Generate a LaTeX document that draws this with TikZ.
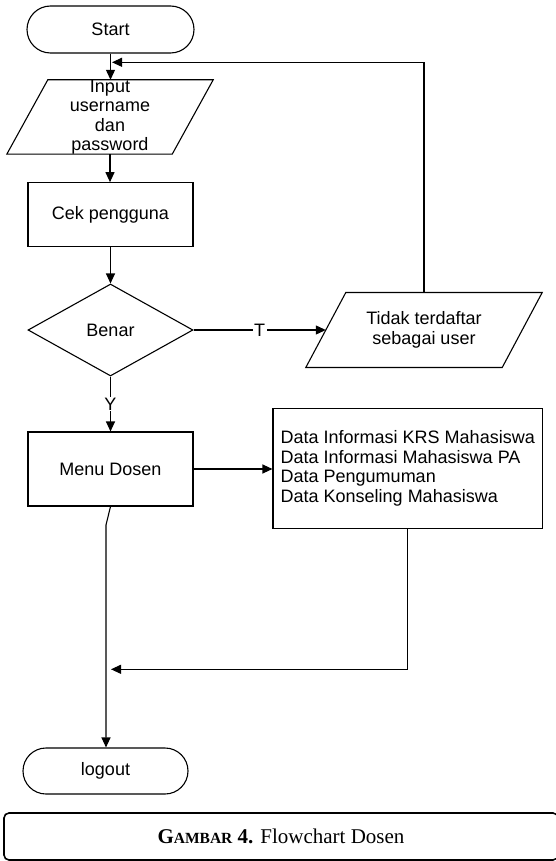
\documentclass[tikz,border=0pt]{standalone}
\usepackage{fontspec}
\setmainfont{Liberation Sans}
\newfontfamily\capfont{Liberation Serif}
\usetikzlibrary{arrows.meta,shapes.geometric,shapes.misc,calc}
\begin{document}
\begin{tikzpicture}[x=1pt,y=-1pt,
  every node/.style={font=\fontsize{18}{19.5}\selectfont, inner sep=0pt},
  line/.style={line width=1.1pt},
  arr/.style={line width=1.1pt, -{Triangle[length=10pt,width=9pt]}},
  box/.style={draw, line width=1.1pt, rectangle},
  term/.style={draw, line width=1.1pt, rounded rectangle},
  lbl/.style={fill=white, inner xsep=1.5pt, inner ysep=1pt}
]
\useasboundingbox (0,0) rectangle (556,861);

% nodes
\node[term, minimum width=167pt, minimum height=47pt] (start) at (110.5,29.5) {Start};

\node[minimum width=165pt, minimum height=74pt] (input) at (110,117) {};
\draw[line] ([xshift=20.5pt]input.north west) -- ([xshift=20.5pt]input.north east)
  -- ([xshift=-20.5pt]input.south east) -- ([xshift=-20.5pt]input.south west) -- cycle;
\node[align=center] (inputtext) at (input.center) {Input\\username\\dan\\password};

\node[box, minimum width=165pt, minimum height=64pt] (cek) at (110.5,214.7) {Cek pengguna};

\node[draw, diamond, line width=1.1pt, minimum width=165pt, minimum height=92pt] (benar) at (110.5,330) {Benar};

\node[minimum width=196pt, minimum height=74.6pt, align=center] (tidak) at (424,330) {Tidak terdaftar\\sebagai user};
\draw[line] ([xshift=20pt]tidak.north west) -- ([xshift=20pt]tidak.north east)
  -- ([xshift=-20pt]tidak.south east) -- ([xshift=-20pt]tidak.south west) -- cycle;

\node[box, minimum width=165pt, minimum height=74pt] (menu) at (110.5,469) {Menu Dosen};

\node[box, minimum width=269.5pt, minimum height=120pt, align=left] (data) at (407.75,468.3)
  {Data Informasi KRS Mahasiswa\\Data Informasi Mahasiswa PA\\Data Pengumuman\\Data Konseling Mahasiswa};

\node[term, minimum width=165pt, minimum height=46pt] (logout) at (105.5,771) {logout};

% helper coordinates
\coordinate (retcorner) at (424,62.3);
\coordinate (retend) at (112,62.3);
\coordinate (bend) at (106,525);
\coordinate (dcorner) at (407.75,669.3);
\coordinate (dend) at (111,669.3);

% connectors
\draw[arr] (start.south) -- (start.south |- input.north);
\draw[arr] (input.south) -- (input.south |- cek.north);
\draw[arr] (cek.south) -- (benar.north);
\draw[arr] (benar.east) -- node[lbl] (tlabel) {T} (tidak.west);
\draw[arr] (benar.south) -- node[lbl] (ylabel) {Y} (menu.north);
\draw[arr] (tidak.north) -- (retcorner) -- (retend);
\draw[arr] (menu.east) -- (menu.east -| data.west);
\draw[arr] (menu.south) -- (bend) -- (bend |- logout.north);
\draw[arr] (data.south) -- (dcorner) -- (dend);

% caption
\node[draw, rounded corners=5pt, line width=1.6pt, minimum width=554pt, minimum height=47pt] (caption) at (281,836.5)
  {\capfont\fontsize{21}{24}\selectfont\textbf{G{\fontsize{15.5}{18}\selectfont AMBAR} 4.} Flowchart Dosen};
\end{tikzpicture}
\end{document}
